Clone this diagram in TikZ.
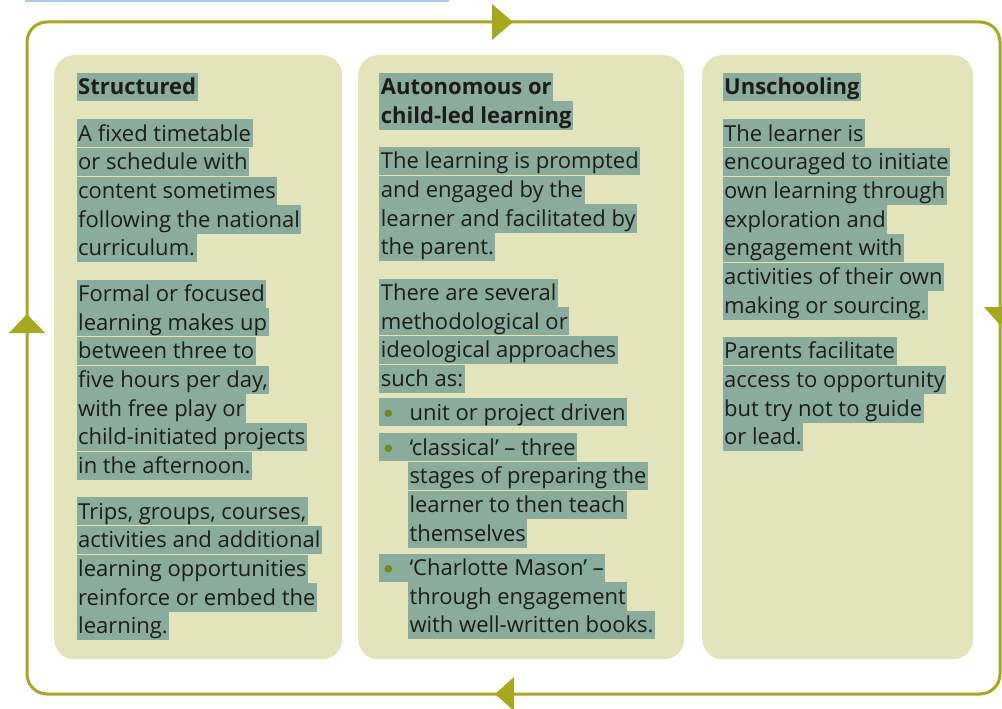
\documentclass[tikz,border=0pt]{standalone}
\usepackage{fontspec}
\setmainfont{Open Sans}
\definecolor{loop}{RGB}{168,168,30}
\definecolor{panel}{RGB}{227,228,186}
\definecolor{hlcol}{RGB}{138,172,157}
\definecolor{txt}{RGB}{28,28,28}
\definecolor{bul}{RGB}{110,138,28}
\definecolor{topblue}{RGB}{170,202,232}
\tikzset{
  panelbox/.style={fill=panel, draw=none, rounded corners=20pt},
  hl/.style={anchor=base west, fill=hlcol, inner xsep=1.5pt, inner ysep=0pt,
    text height=21.8pt, text depth=6.4pt, text=txt,
    font=\fontsize{22}{28}\selectfont},
  hlb/.style={hl, font=\fontsize{22}{28}\selectfont\bfseries},
  loopline/.style={draw=loop, line width=3pt, rounded corners=20pt},
  tip/.style={fill=loop, draw=none}
}
\newcounter{hlc}
\newcommand\hlline[4][hl]{\stepcounter{hlc}\node[#1] (hl\thehlc) at (#2,#3) {#4};}
\newcommand\bulline[3]{\stepcounter{hlc}\node[hl] (hl\thehlc) at (#1,#2) {\hspace*{28.6pt}#3};
  \fill[bul] (388.3,#2-6.7) circle (3.8pt);}
\begin{document}
\begin{tikzpicture}[x=1pt,y=-1pt]
\useasboundingbox (0,0) rectangle (1002,709);
% top blue rule
\draw[topblue, line width=2.5pt] (25,0.5) -- (449,0.5);
% outer cycle
\draw[loopline] (512,22) -- (1000,22) -- (1000,694) -- (27,694) -- (27,22) -- cycle;
\fill[tip] (492,4) -- (513,22) -- (492,40) -- cycle;
\fill[tip] (9,333) -- (27,314) -- (45,333) -- cycle;
\fill[tip] (514,677) -- (495,694) -- (514,711) -- cycle;
\fill[tip] (984,307) -- (1000,325) -- (1016,307) -- cycle;
% panels
\node[panelbox, minimum width=288pt, minimum height=604pt, anchor=north west] (pA) at (54,55) {};
\node[panelbox, minimum width=326pt, minimum height=604pt, anchor=north west] (pB) at (358,55) {};
\node[panelbox, minimum width=271pt, minimum height=604pt, anchor=north west] (pC) at (702,55) {};
% panel 1
\hlline[hlb]{76.5}{94.5}{Structured}
\hlline{76.5}{141}{A fixed timetable}
\hlline{76.5}{169.7}{or schedule with}
\hlline{76.5}{198.4}{content sometimes}
\hlline{76.5}{227.1}{following the national}
\hlline{76.5}{255.8}{curriculum.}
\hlline{76.5}{301.3}{Formal or focused}
\hlline{76.5}{330}{learning makes up}
\hlline{76.5}{358.7}{between three to}
\hlline{76.5}{387.4}{five hours per day,}
\hlline{76.5}{416.1}{with free play or}
\hlline{76.5}{444.8}{child-initiated projects}
\hlline{76.5}{473.5}{in the afternoon.}
\hlline{76.5}{519}{Trips, groups, courses,}
\hlline{76.5}{547.7}{activities and additional}
\hlline{76.5}{576.4}{learning opportunities}
\hlline{76.5}{605.1}{reinforce or embed the}
\hlline{76.5}{633.8}{learning.}
% panel 2
\hlline[hlb]{379.2}{94.5}{Autonomous or}
\hlline[hlb]{379.2}{123.2}{child-led learning}
\hlline{379.2}{168.7}{The learning is prompted}
\hlline{379.2}{197.4}{and engaged by the}
\hlline{379.2}{226.1}{learner and facilitated by}
\hlline{379.2}{254.8}{the parent.}
\hlline{379.2}{300.3}{There are several}
\hlline{379.2}{329}{methodological or}
\hlline{379.2}{357.7}{ideological approaches}
\hlline{379.2}{386.4}{such as:}
\bulline{379.2}{420}{unit or project driven}
\bulline{379.2}{455}{‘classical’ – three}
\hlline{407.8}{483.7}{stages of preparing the}
\hlline{407.8}{512.4}{learner to then teach}
\hlline{407.8}{541.1}{themselves}
\bulline{379.2}{575.5}{‘Charlotte Mason’ –}
\hlline{407.8}{604.2}{through engagement}
\hlline{407.8}{632.9}{with well-written books.}
% panel 3
\hlline[hlb]{722.5}{95}{Unschooling}
\hlline{722.5}{141}{The learner is}
\hlline{722.5}{169.7}{encouraged to initiate}
\hlline{722.5}{198.4}{own learning through}
\hlline{722.5}{227.1}{exploration and}
\hlline{722.5}{255.8}{engagement with}
\hlline{722.5}{284.5}{activities of their own}
\hlline{722.5}{313.2}{making or sourcing.}
\hlline{722.5}{358.7}{Parents facilitate}
\hlline{722.5}{387.4}{access to opportunity}
\hlline{722.5}{416.1}{but try not to guide}
\hlline{722.5}{444.8}{or lead.}
\end{tikzpicture}
\end{document}
